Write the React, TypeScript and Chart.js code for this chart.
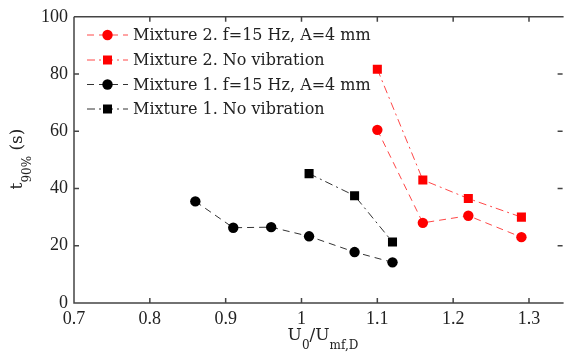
import React, { useEffect, useRef } from "react";
import { Chart, registerables } from "chart.js";

Chart.register(...registerables);

const m2VibX = [1.1, 1.16, 1.22, 1.29];
const m2VibY = [60.5, 28, 30.5, 23];
const m2NoX = [1.1, 1.16, 1.22, 1.29];
const m2NoY = [81.7, 43, 36.5, 30];
const m1VibX = [0.86, 0.91, 0.96, 1.01, 1.07, 1.12];
const m1VibY = [35.5, 26.3, 26.5, 23.3, 17.8, 14.2];
const m1NoX = [1.01, 1.07, 1.12];
const m1NoY = [45.2, 37.5, 21.3];

const xTicks = [0.7, 0.8, 0.9, 1.0, 1.1, 1.2, 1.3];
const yTicks = [0, 20, 40, 60, 80, 100];

const legendLabels = [
  "Mixture 2. f=15 Hz, A=4 mm",
  "Mixture 2. No vibration",
  "Mixture 1. f=15 Hz, A=4 mm",
  "Mixture 1. No vibration",
];

const RED = "#ff0000";
const RED_LINE = "rgba(255,40,40,0.85)";
const BLACK = "#000000";
const BLACK_LINE = "#333333";
const DASH = [7, 5];
const DASHDOT = [8, 4, 2, 4];
const AXIS = "#444444";
const SERIF = "'DejaVu Serif', serif";
const TICKFONT = "'Liberation Serif', serif";

const pts = (xs: number[], ys: number[]) => xs.map((x, i) => ({ x, y: ys[i] }));

const framePlugin = {
  id: "frame",
  afterDraw(chart: any) {
    const { ctx, chartArea } = chart;
    const { left, right, top, bottom } = chartArea;
    const xs = chart.scales.x;
    const ys = chart.scales.y;
    ctx.save();
    ctx.strokeStyle = AXIS;
    ctx.lineWidth = 1.5;
    ctx.setLineDash([]);
    ctx.beginPath();
    ctx.moveTo(left, top);
    ctx.lineTo(right + 2, top);
    ctx.moveTo(left, top);
    ctx.lineTo(left, bottom);
    ctx.lineTo(right + 2, bottom);
    const tl = 5;
    xTicks.forEach((v) => {
      const px = xs.getPixelForValue(v);
      ctx.moveTo(px, bottom);
      ctx.lineTo(px, bottom - tl);
      ctx.moveTo(px, top);
      ctx.lineTo(px, top + tl);
    });
    yTicks.forEach((v) => {
      const py = ys.getPixelForValue(v);
      ctx.moveTo(left, py);
      ctx.lineTo(left + tl, py);
      ctx.moveTo(right + 1, py);
      ctx.lineTo(right + 1 - tl, py);
    });
    ctx.stroke();

    // legend
    const rowY = [35, 60, 84.5, 109];
    chart.data.datasets.forEach((ds: any, i: number) => {
      const y = rowY[i];
      ctx.save();
      ctx.strokeStyle = ds.borderColor;
      ctx.lineWidth = 1;
      ctx.setLineDash(ds.borderDash);
      ctx.beginPath();
      ctx.moveTo(87, y);
      ctx.lineTo(128, y);
      ctx.stroke();
      ctx.setLineDash([]);
      ctx.fillStyle = ds.pointBackgroundColor;
      ctx.beginPath();
      if (ds.pointStyle === "circle") {
        ctx.arc(107.5, y, 5.2, 0, Math.PI * 2);
      } else {
        ctx.rect(107.5 - 4.5, y - 4.5, 9, 9);
      }
      ctx.fill();
      ctx.restore();
      ctx.fillStyle = "#222";
      ctx.font = `16px ${SERIF}`;
      ctx.textBaseline = "middle";
      ctx.textAlign = "left";
      ctx.fillText(legendLabels[i], 133, y + 1);
    });

    // y axis title: t_{90%} (s)
    ctx.save();
    ctx.fillStyle = "#222";
    ctx.translate(22, 159);
    ctx.rotate(-Math.PI / 2);
    const big = `17px ${SERIF}`;
    const small = `12px ${SERIF}`;
    const parts = [
      { t: "t", f: big, dy: 0 },
      { t: "90%", f: small, dy: 9 },
      { t: " (s)", f: big, dy: 0 },
    ];
    let total = 0;
    parts.forEach((p) => {
      ctx.font = p.f;
      total += ctx.measureText(p.t).width;
    });
    let cx = -total / 2;
    ctx.textBaseline = "alphabetic";
    ctx.textAlign = "left";
    parts.forEach((p) => {
      ctx.font = p.f;
      ctx.fillText(p.t, cx, p.dy);
      cx += ctx.measureText(p.t).width;
    });
    ctx.restore();

    // x axis title: U_0/U_{mf,D}
    ctx.save();
    ctx.fillStyle = "#222";
    const xparts = [
      { t: "U", f: big, dy: 0 },
      { t: "0", f: small, dy: 9 },
      { t: "/U", f: big, dy: 0 },
      { t: "mf,D", f: small, dy: 9 },
    ];
    let tw = 0;
    xparts.forEach((p) => {
      ctx.font = p.f;
      tw += ctx.measureText(p.t).width;
    });
    let px = 323 - tw / 2;
    ctx.textBaseline = "alphabetic";
    ctx.textAlign = "left";
    xparts.forEach((p) => {
      ctx.font = p.f;
      ctx.fillText(p.t, px, 340 + p.dy);
      px += ctx.measureText(p.t).width;
    });
    ctx.restore();
    ctx.restore();
  },
};

export default function App() {
  const ref = useRef<HTMLCanvasElement | null>(null);
  useEffect(() => {
    document.body.style.margin = "0";
    const canvas = ref.current;
    if (!canvas) return;
    const mk = (label: string, data: any, color: string, line: string, style: string, dash: number[], r: number) => ({
      label,
      data,
      borderColor: line,
      backgroundColor: color,
      pointBackgroundColor: color,
      pointBorderColor: color,
      pointBorderWidth: 0,
      pointStyle: style,
      pointRadius: r,
      borderWidth: 1,
      borderDash: dash,
      showLine: true,
      fill: false,
      tension: 0,
    });
    const chart = new Chart(canvas, {
      type: "line",
      data: {
        datasets: [
          mk(legendLabels[0], pts(m2VibX, m2VibY), RED, RED_LINE, "circle", DASH, 5.2),
          mk(legendLabels[1], pts(m2NoX, m2NoY), RED, RED_LINE, "rect", DASHDOT, 6.4),
          mk(legendLabels[2], pts(m1VibX, m1VibY), BLACK, BLACK_LINE, "circle", DASH, 5.2),
          mk(legendLabels[3], pts(m1NoX, m1NoY), BLACK, BLACK_LINE, "rect", DASHDOT, 6.4),
        ] as any,
      },
      options: {
        animation: false,
        responsive: false,
        devicePixelRatio: 1,
        layout: { padding: { top: 16, right: 1, left: 0, bottom: 0 } },
        plugins: { legend: { display: false }, tooltip: { enabled: false } },
        scales: {
          x: {
            type: "linear",
            min: 0.7,
            max: 1.343,
            afterFit: (s: any) => {
              s.height = 49;
            },
            afterBuildTicks: (s: any) => {
              s.ticks = xTicks.map((v) => ({ value: v }));
            },
            grid: { display: false, drawTicks: false },
            border: { display: false },
            ticks: {
              padding: 5,
              color: "#222",
              font: { family: TICKFONT, size: 18 },
              maxRotation: 0,
              autoSkip: false,
              callback: (v: any) => String(Math.round(Number(v) * 10) / 10),
            },
          },
          y: {
            type: "linear",
            min: 0,
            max: 100,
            afterFit: (s: any) => {
              s.width = 74;
            },
            afterBuildTicks: (s: any) => {
              s.ticks = yTicks.map((v) => ({ value: v }));
            },
            grid: { display: false, drawTicks: false },
            border: { display: false },
            ticks: {
              padding: 6,
              color: "#222",
              font: { family: TICKFONT, size: 18 },
              autoSkip: false,
              callback: (v: any) => String(v),
            },
          },
        },
      },
      plugins: [framePlugin],
    });
    return () => chart.destroy();
  }, []);
  return <canvas ref={ref} width={568} height={352} style={{ display: "block" }} />;
}
